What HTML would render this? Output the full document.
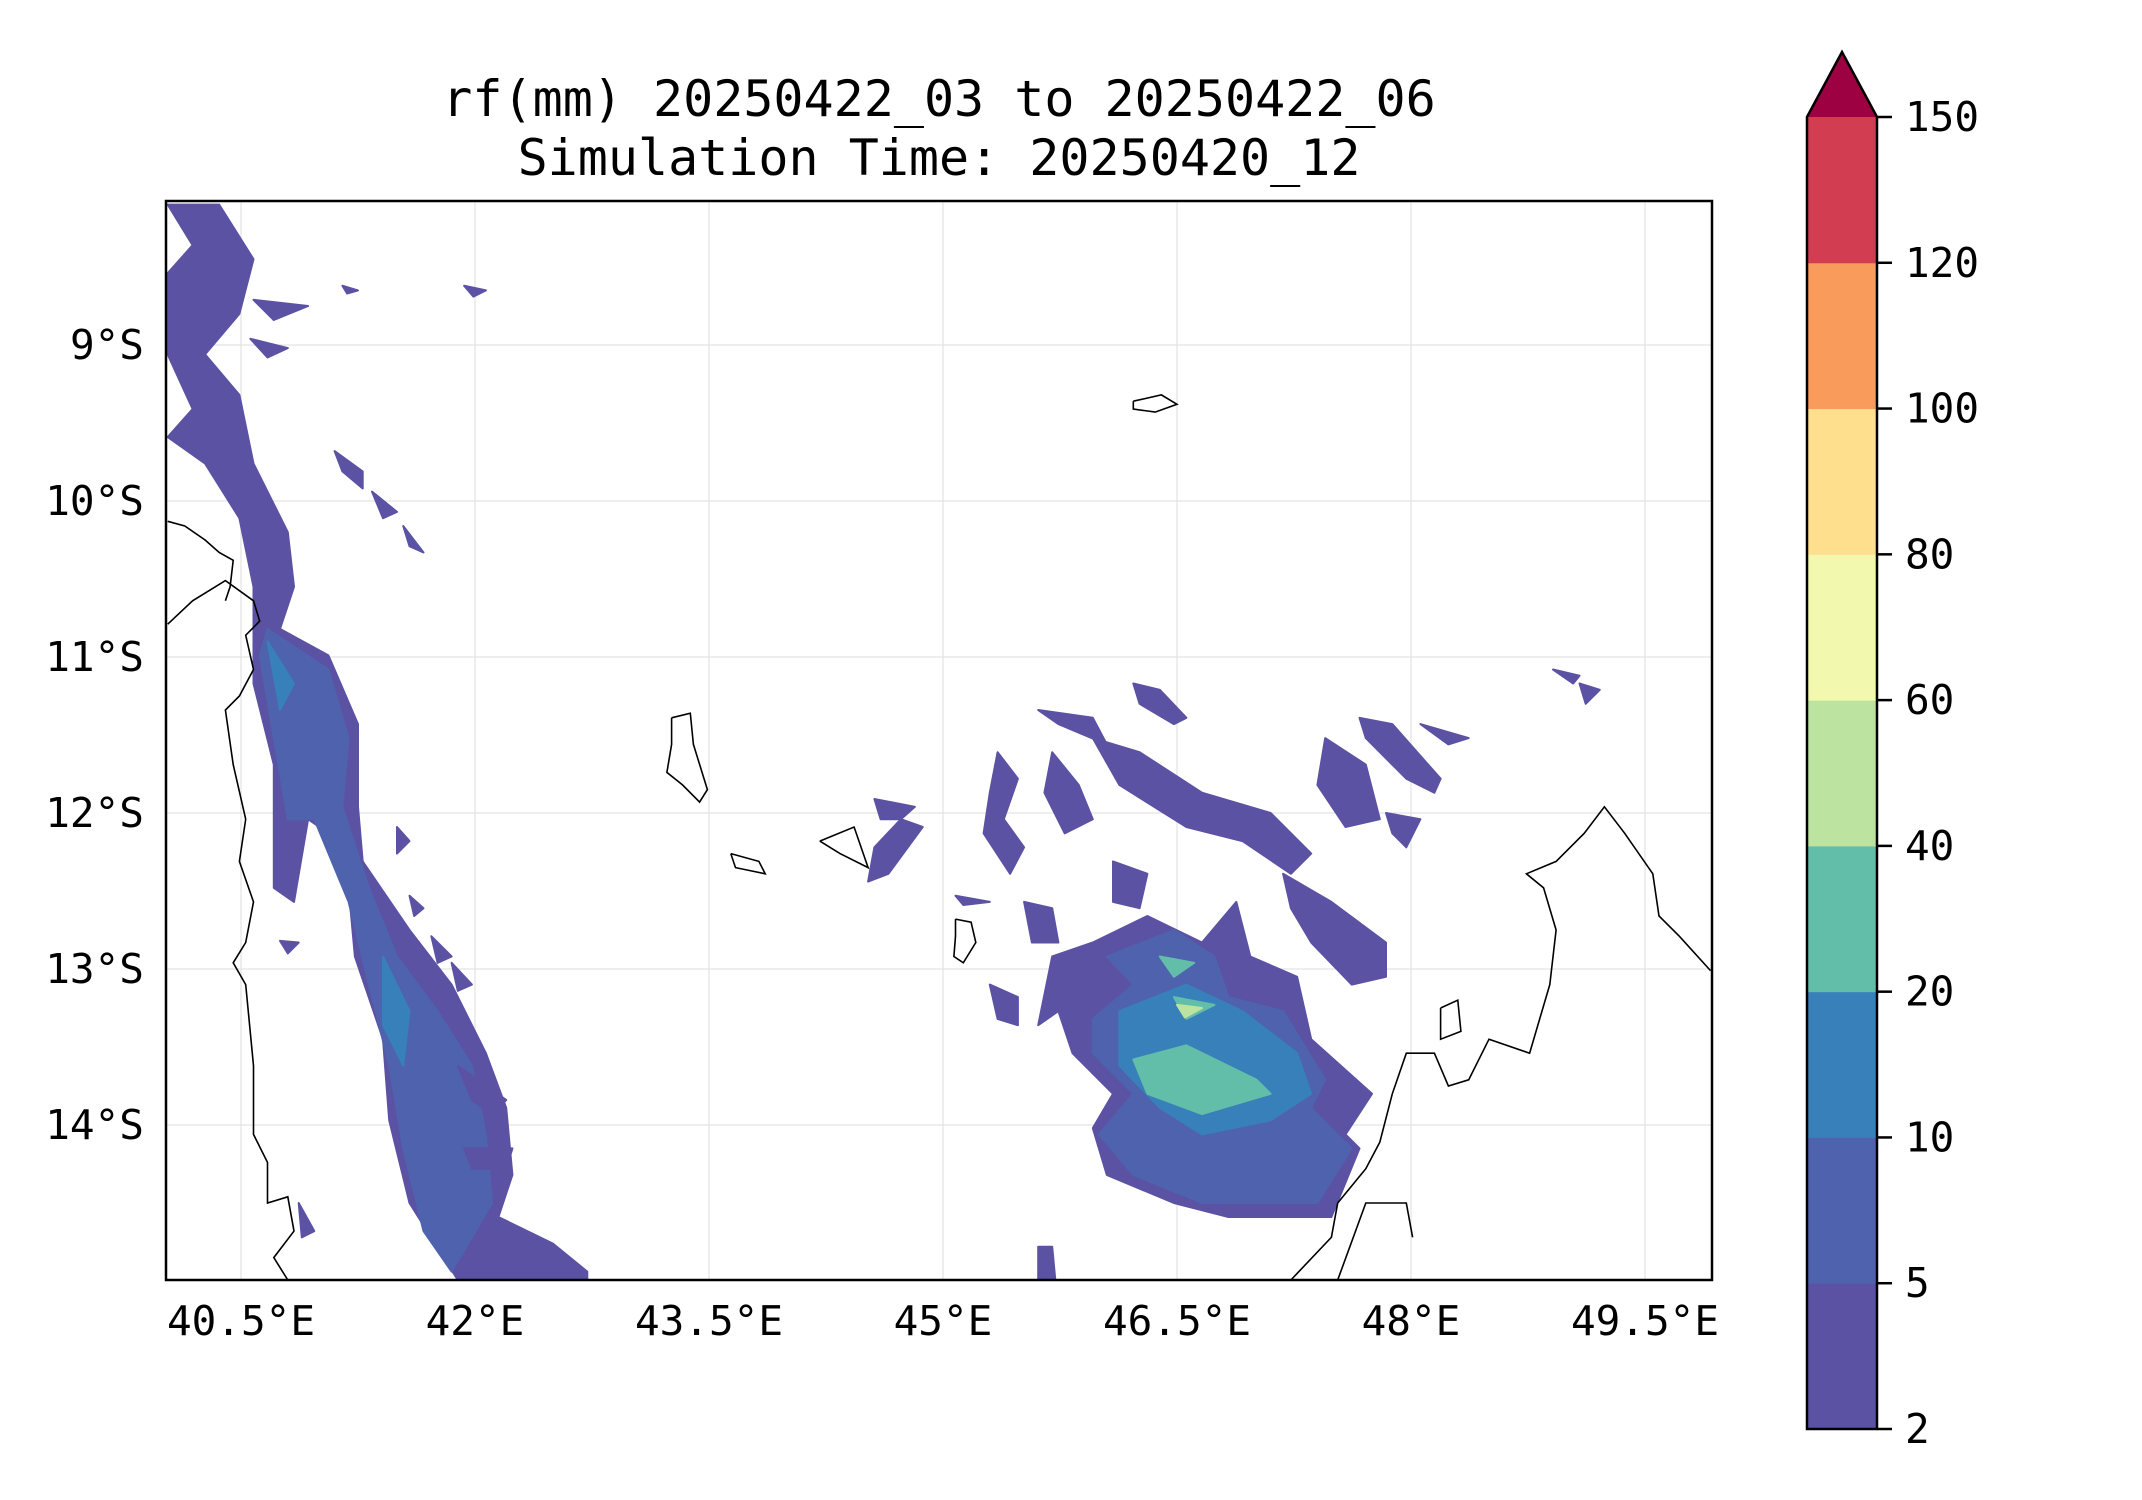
<!DOCTYPE html>
<html><head><meta charset="utf-8"><style>
html,body{margin:0;padding:0;background:#fff;}
svg{display:block;font-family:"DejaVu Sans Mono","Liberation Mono",monospace;}
</style></head><body>
<svg id="c" width="2142" height="1500" viewBox="0 0 2142 1500" xmlns="http://www.w3.org/2000/svg">
<text x="939" y="116" font-size="50" text-anchor="middle">rf(mm) 20250422_03 to 20250422_06</text>
<text x="939" y="175" font-size="50" text-anchor="middle">Simulation Time: 20250420_12</text>
<g id="grid"></g>
<g id="rain"></g>
<g id="coast"></g>
<rect x="166" y="201" width="1546" height="1079" fill="none" stroke="#000" stroke-width="2.5"/>
<g id="xt"></g>
<g id="yt"></g>
<g id="cb"></g>
</svg>
<script>
const lonTicks=[40.5,42,43.5,45,46.5,48,49.5];
const lonLabels=["40.5°E","42°E","43.5°E","45°E","46.5°E","48°E","49.5°E"];
const latTicks=[-9,-10,-11,-12,-13,-14];
const latLabels=["9°S","10°S","11°S","12°S","13°S","14°S"];
const levels=[2,5,10,20,40,60,80,100,120,150];
const levelColors=["#5b52a3","#4e62ad","#3880b9","#63bea9","#bce4a0","#f2f9ae","#fddf8e","#f99b5a","#d33d51"];
const overColor="#9e0142";
// rainfall contour polygons: level index + [lon,lat] vertices
const rainLevels=[0,1,2,2, 0,1,2,3,3,3,4, 0,0,0,0,0,0,0,0,0,0,0,0,0,0,0,0,0,0,0, 0,0,0,0,0,0,0,0,0,0,0,0,0,0,0];
const rainPolys=[
[[40.03,-8.10],[40.36,-8.10],[40.58,-8.45],[40.49,-8.80],[40.27,-9.06],[40.49,-9.32],[40.58,-9.76],[40.80,-10.20],[40.84,-10.55],[40.75,-10.82],[41.06,-10.99],[41.25,-11.43],[41.25,-11.96],[41.28,-12.31],[41.58,-12.75],[41.85,-13.10],[42.07,-13.54],[42.20,-13.89],[42.24,-14.32],[42.15,-14.59],[42.50,-14.76],[42.72,-14.94],[42.72,-15.0],[41.89,-15.0],[41.58,-14.50],[41.45,-13.97],[41.41,-13.45],[41.23,-12.92],[41.19,-12.48],[41.06,-12.13],[40.93,-12.04],[40.84,-12.57],[40.71,-12.48],[40.71,-11.69],[40.58,-11.17],[40.58,-10.55],[40.49,-10.11],[40.27,-9.76],[40.03,-9.59],[40.19,-9.41],[40.03,-9.06],[40.03,-8.54],[40.19,-8.36]],
[[40.67,-10.82],[41.06,-11.08],[41.19,-11.52],[41.15,-11.96],[41.32,-12.48],[41.50,-12.92],[41.76,-13.27],[41.98,-13.62],[42.07,-14.06],[42.11,-14.50],[41.85,-14.94],[41.67,-14.68],[41.54,-14.15],[41.45,-13.62],[41.32,-13.10],[41.19,-12.57],[40.97,-12.04],[40.80,-12.04],[40.71,-11.52],[40.62,-10.99]],
[[41.41,-12.92],[41.58,-13.27],[41.54,-13.62],[41.41,-13.36]],
[[40.67,-10.90],[40.84,-11.17],[40.75,-11.34]],
[[45.96,-12.83],[46.31,-12.66],[46.66,-12.83],[46.88,-12.57],[46.97,-12.92],[47.27,-13.05],[47.36,-13.45],[47.75,-13.80],[47.58,-14.06],[47.67,-14.15],[47.49,-14.59],[46.83,-14.59],[46.48,-14.50],[46.05,-14.32],[45.96,-14.02],[46.09,-13.80],[45.83,-13.54],[45.74,-13.27],[45.61,-13.36],[45.70,-12.92]],
[[46.05,-12.92],[46.48,-12.75],[46.74,-12.92],[46.83,-13.18],[47.18,-13.27],[47.45,-13.71],[47.36,-13.89],[47.62,-14.15],[47.40,-14.50],[46.66,-14.50],[46.22,-14.32],[46.00,-14.06],[46.22,-13.80],[45.96,-13.54],[45.96,-13.32],[46.22,-13.10]],
[[46.13,-13.27],[46.56,-13.10],[46.92,-13.27],[47.27,-13.54],[47.36,-13.80],[47.10,-13.97],[46.66,-14.06],[46.39,-13.89],[46.13,-13.62]],
[[46.22,-13.58],[46.56,-13.49],[47.01,-13.71],[47.10,-13.80],[46.66,-13.93],[46.31,-13.80]],
[[46.39,-12.92],[46.61,-12.96],[46.48,-13.05]],
[[46.48,-13.18],[46.74,-13.23],[46.56,-13.32]],
[[46.50,-13.23],[46.66,-13.25],[46.55,-13.31]],
[[45.61,-11.34],[45.96,-11.39],[46.05,-11.56],[45.74,-11.43]],
[[46.22,-11.17],[46.39,-11.21],[46.56,-11.39],[46.48,-11.43],[46.26,-11.30]],
[[45.96,-11.52],[46.26,-11.61],[46.66,-11.87],[47.10,-12.00],[47.36,-12.26],[47.23,-12.39],[46.92,-12.18],[46.56,-12.09],[46.13,-11.82]],
[[47.67,-11.39],[47.88,-11.43],[48.19,-11.78],[48.15,-11.87],[47.97,-11.78],[47.71,-11.52]],
[[45.70,-11.61],[45.87,-11.82],[45.96,-12.04],[45.78,-12.13],[45.65,-11.87]],
[[45.35,-11.61],[45.48,-11.78],[45.39,-12.04],[45.52,-12.22],[45.43,-12.39],[45.26,-12.13],[45.30,-11.87]],
[[44.56,-11.91],[44.82,-11.96],[44.73,-12.04],[44.60,-12.04]],
[[44.73,-12.04],[44.87,-12.09],[44.65,-12.39],[44.52,-12.44],[44.56,-12.22]],
[[47.18,-12.39],[47.49,-12.57],[47.84,-12.83],[47.84,-13.05],[47.62,-13.10],[47.36,-12.83],[47.23,-12.61]],
[[47.45,-11.52],[47.71,-11.69],[47.80,-12.04],[47.58,-12.09],[47.40,-11.82]],
[[47.84,-12.00],[48.06,-12.04],[47.97,-12.22],[47.88,-12.13]],
[[45.30,-13.10],[45.48,-13.18],[45.48,-13.36],[45.35,-13.32]],
[[45.52,-12.57],[45.70,-12.61],[45.74,-12.83],[45.57,-12.83]],
[[46.09,-12.31],[46.31,-12.39],[46.26,-12.61],[46.09,-12.57]],
[[48.91,-11.08],[49.08,-11.12],[49.04,-11.17]],
[[49.08,-11.17],[49.21,-11.21],[49.12,-11.30]],
[[48.06,-11.43],[48.37,-11.52],[48.24,-11.56]],
[[45.61,-14.78],[45.70,-14.78],[45.72,-15.0],[45.61,-15.0]],
[[45.08,-12.53],[45.30,-12.57],[45.13,-12.59]],
[[40.58,-8.71],[40.93,-8.75],[40.71,-8.84]],
[[40.56,-8.96],[40.80,-9.02],[40.67,-9.08]],
[[41.10,-9.68],[41.28,-9.81],[41.28,-9.92],[41.15,-9.81]],
[[41.34,-9.94],[41.50,-10.07],[41.41,-10.11]],
[[41.54,-10.16],[41.67,-10.33],[41.58,-10.29]],
[[41.50,-12.09],[41.58,-12.18],[41.50,-12.26]],
[[41.58,-12.53],[41.67,-12.61],[41.61,-12.66]],
[[41.72,-12.79],[41.85,-12.92],[41.76,-12.96]],
[[41.85,-12.96],[41.98,-13.10],[41.89,-13.14]],
[[41.89,-13.62],[42.20,-13.84],[42.11,-13.93],[41.98,-13.84]],
[[41.93,-14.15],[42.24,-14.15],[42.20,-14.28],[41.98,-14.28]],
[[40.75,-12.82],[40.87,-12.83],[40.80,-12.90]],
[[40.87,-14.50],[40.97,-14.68],[40.89,-14.72]],
[[41.15,-8.62],[41.25,-8.65],[41.18,-8.67]],
[[41.93,-8.62],[42.07,-8.65],[41.99,-8.69]]
];
// coastline polylines [lon,lat]
const coastLines=[
[[40.03,-10.13],[40.14,-10.16],[40.27,-10.25],[40.36,-10.33],[40.45,-10.38],[40.43,-10.55],[40.40,-10.64]],
[[40.03,-10.79],[40.19,-10.64],[40.40,-10.51],[40.58,-10.64],[40.62,-10.77],[40.53,-10.86],[40.58,-11.08],[40.49,-11.25],[40.40,-11.34],[40.45,-11.69],[40.53,-12.04],[40.49,-12.31],[40.58,-12.57],[40.53,-12.83],[40.45,-12.96],[40.53,-13.10],[40.58,-13.62],[40.58,-14.06],[40.67,-14.24],[40.67,-14.50],[40.80,-14.46],[40.84,-14.68],[40.71,-14.85],[40.80,-15.0]],
[[43.26,-11.39],[43.38,-11.36],[43.40,-11.56],[43.49,-11.85],[43.44,-11.93],[43.33,-11.82],[43.23,-11.74],[43.26,-11.56],[43.26,-11.39]],
[[44.21,-12.18],[44.43,-12.09],[44.52,-12.35],[44.34,-12.26],[44.21,-12.18]],
[[43.64,-12.26],[43.82,-12.31],[43.86,-12.39],[43.67,-12.35],[43.64,-12.26]],
[[45.08,-12.68],[45.18,-12.70],[45.21,-12.83],[45.13,-12.96],[45.07,-12.92],[45.08,-12.79],[45.08,-12.68]],
[[46.22,-9.36],[46.40,-9.32],[46.50,-9.38],[46.36,-9.43],[46.22,-9.41],[46.22,-9.36]],
[[47.23,-15.0],[47.49,-14.72],[47.53,-14.50],[47.71,-14.28],[47.80,-14.11],[47.88,-13.80],[47.97,-13.54],[48.15,-13.54],[48.24,-13.75],[48.37,-13.71],[48.50,-13.45],[48.76,-13.54],[48.89,-13.10],[48.93,-12.75],[48.85,-12.48],[48.74,-12.39],[48.93,-12.31],[49.11,-12.13],[49.24,-11.96],[49.37,-12.13],[49.55,-12.39],[49.59,-12.66],[49.72,-12.79],[49.92,-13.01]],
[[47.53,-15.0],[47.71,-14.50],[47.97,-14.50],[48.01,-14.72]],
[[48.19,-13.25],[48.30,-13.20],[48.32,-13.40],[48.19,-13.45],[48.19,-13.25]]
];
const NS="http://www.w3.org/2000/svg";
const PL=166,PT=201,PR=1712,PB=1280;
function X(lon){return 241+(lon-40.5)*156;}
function Y(lat){return 345+(-9-lat)*156;}
function mk(tag,attrs,parent){const e=document.createElementNS(NS,tag);for(const k in attrs)e.setAttribute(k,attrs[k]);parent.appendChild(e);return e;}
const grid=document.getElementById('grid');
lonTicks.forEach((v,i)=>{
  const l=mk('line',{x1:X(v),x2:X(v),y1:PT,y2:PB,stroke:'#e3e3e3','stroke-width':1.2},grid);
  
  
  const t=mk('text',{x:X(v),y:1335,'font-size':41,'text-anchor':'middle'},document.getElementById('xt'));
  t.textContent=lonLabels[i];
  
  
});
latTicks.forEach((v,i)=>{
  const l=mk('line',{x1:PL,x2:PR,y1:Y(v),y2:Y(v),stroke:'#e3e3e3','stroke-width':1.2},grid);
  
  
  const t=mk('text',{x:144,y:Y(v)+14,'font-size':41,'text-anchor':'end'},document.getElementById('yt'));
  t.textContent=latLabels[i];
  
  
});
const rain=document.getElementById('rain');
rainPolys.forEach((p,i)=>{
  const c=levelColors[rainLevels[i]];
  const e=mk('polygon',{points:p.map(q=>X(Math.min(q[0],49.92)).toFixed(1)+','+Math.min(Y(q[1]),PB).toFixed(1)).join(' '),fill:c,stroke:c,'stroke-width':2,'stroke-linejoin':'round'},rain);
  
  
});
const coast=document.getElementById('coast');
coastLines.forEach(p=>{
  const e=mk('polyline',{points:p.map(q=>X(q[0]).toFixed(1)+','+Math.min(Y(q[1]),PB).toFixed(1)).join(' '),fill:'none',stroke:'#000','stroke-width':1.6},coast);
  
  
});
// colorbar
const cb=document.getElementById('cb');
const cbTop=117,cbBot=1429,cbL=1807,cbR=1877,n=levels.length-1,seg=(cbBot-cbTop)/n;
function CY(i){return cbBot-i*seg;}
for(let i=0;i<n;i++){
  const r=mk('rect',{x:cbL,y:CY(i+1),width:cbR-cbL,height:seg+0.5,fill:levelColors[i]},cb);
  
  
}
const tri=mk('polygon',{points:`${cbL},${cbTop} ${(cbL+cbR)/2},52 ${cbR},${cbTop}`,fill:overColor},cb);


const outl=mk('path',{d:`M${cbL},${cbBot} L${cbL},${cbTop} L${(cbL+cbR)/2},52 L${cbR},${cbTop} L${cbR},${cbBot} Z`,fill:'none',stroke:'#000','stroke-width':2.5},cb);


levels.forEach((v,i)=>{
  const tk=mk('line',{x1:cbR,x2:cbR+15,y1:CY(i),y2:CY(i),stroke:'#000','stroke-width':2.5},cb);
  
  
  const t=mk('text',{x:1905,y:CY(i)+14,'font-size':41},cb);
  t.textContent=String(v);
  
  
});
</script>
</body></html>
